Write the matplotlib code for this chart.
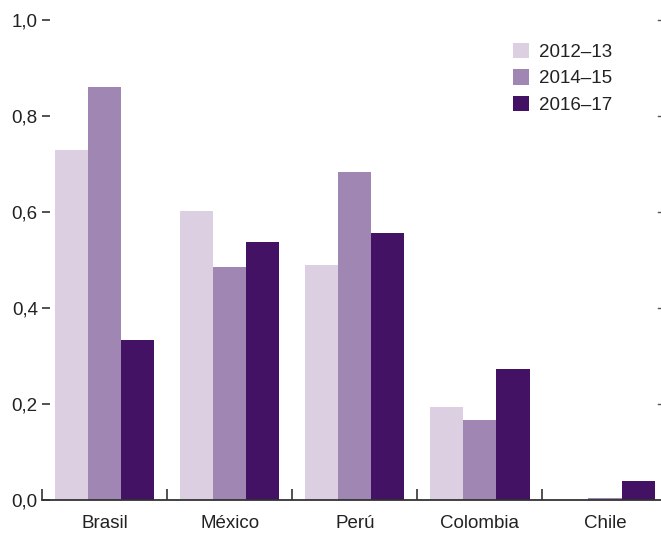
import matplotlib
matplotlib.use("Agg")
import matplotlib.pyplot as plt
import matplotlib.transforms as mtransforms
import numpy as np

plt.rcParams['font.family'] = ['Liberation Sans Narrow', 'Liberation Sans', 'DejaVu Sans']

categories = ["Brasil", "México", "Perú", "Colombia", "Chile"]
series_names = ["2012–13", "2014–15", "2016–17"]
v2012 = [0.729, 0.602, 0.490, 0.194, 0.0]
v2014 = [0.860, 0.485, 0.683, 0.167, 0.004]
v2016 = [0.333, 0.537, 0.556, 0.273, 0.040]
colors = ["#dccfe2", "#a086b3", "#431265"]
yticks = [0.0, 0.2, 0.4, 0.6, 0.8, 1.0]
ytick_labels = ["0,0", "0,2", "0,4", "0,6", "0,8", "1,0"]

W, H = 661, 533
fig = plt.figure(figsize=(W / 100, H / 100), dpi=100)
left_px, right_px, bottom_px, top_px = 42, 667.5, 33, 513
ax = fig.add_axes([left_px / W, bottom_px / H, (right_px - left_px) / W, (top_px - bottom_px) / H])

x = np.arange(len(categories))
bw = 0.265
for i, (vals, c, name) in enumerate(zip([v2012, v2014, v2016], colors, series_names)):
    ax.bar(x + (i - 1) * bw, vals, width=bw, color=c, label=name, linewidth=0)

ax.set_xlim(-0.5, len(categories) - 0.5)
ax.set_ylim(0, 1.0)
for s in ["top", "right", "left"]:
    ax.spines[s].set_visible(False)
ax.spines["bottom"].set_color("#333333")
ax.spines["bottom"].set_linewidth(1.3)

ax.set_yticks(yticks)
ax.set_yticklabels(ytick_labels, fontsize=13.5, color="#222222")
ax.tick_params(axis="y", direction="in", length=6, width=1.2, color="#333333", pad=3)

ax.set_xticks(x)
ax.set_xticklabels(categories, fontsize=13.5, color="#222222")
ax.tick_params(axis="x", which="major", length=0, pad=11)
ax.set_xticks(np.arange(-0.5, len(categories)), minor=True)
ax.tick_params(axis="x", which="minor", direction="in", length=8, width=1.2, color="#333333")

# tiny right-side marks
trans = mtransforms.blended_transform_factory(fig.transFigure, ax.transData)
for yt in yticks[1:]:
    ax.plot([658 / W, 660 / W], [yt, yt], transform=trans, color="#555555", lw=1, clip_on=False)

leg = ax.legend(loc="upper left", bbox_to_anchor=(505 / W, (H - 35) / H), bbox_transform=fig.transFigure,
                frameon=False, fontsize=13.5, handlelength=0.9, handleheight=0.9,
                handletextpad=0.5, labelspacing=0.45, borderaxespad=0)
for t in leg.get_texts():
    t.set_color("#222222")

fig.savefig("out.png", dpi=100)
